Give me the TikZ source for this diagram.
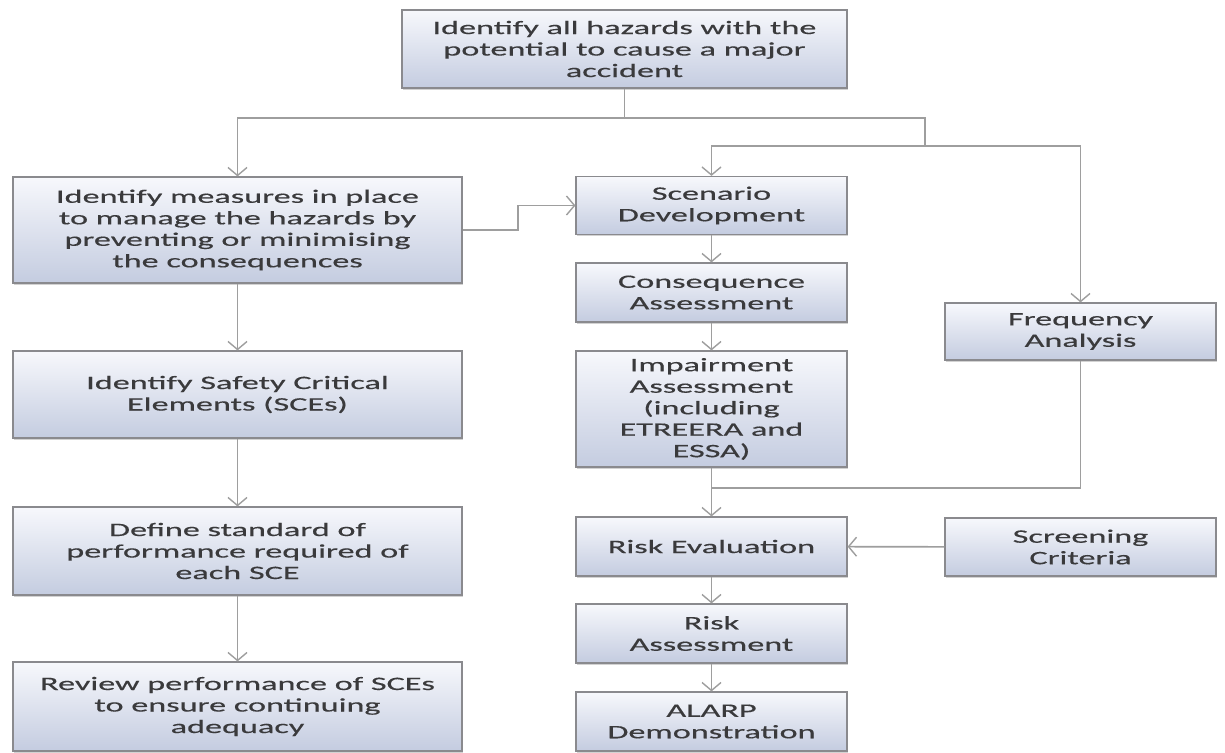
\documentclass[tikz,border=0pt]{standalone}
\usepackage{fontspec}
\setmainfont{Carlito}[FakeStretch=1.8,FakeBold=0.4]
\usetikzlibrary{arrows.meta,shadows}
\definecolor{boxtop}{RGB}{247,248,252}
\definecolor{boxbot}{RGB}{196,204,224}
\definecolor{boxline}{RGB}{138,138,142}
\definecolor{conn}{RGB}{158,158,158}
\definecolor{txt}{RGB}{58,58,60}
\begin{document}
\begin{tikzpicture}[x=1pt,y=-1pt,
  box/.style={draw=boxline, line width=1.2pt, top color=boxtop, bottom color=boxbot,
    inner sep=0pt, align=center, text=txt, font=\fontsize{19}{21.5}\selectfont,
    drop shadow={shadow xshift=0.8pt, shadow yshift=-1.6pt, opacity=0.35}},
  conline/.style={draw=conn, line width=1.6pt},
  conarrow/.style={conline, -{Straight Barb[length=8pt,width=19pt,line width=1.4pt]}}
]
\useasboundingbox[fill=white] (0,0) rectangle (1225,752);

% left column
\node[box, minimum width=445pt, minimum height=78pt] (top) at (624.5,49)
  {Identify all hazards with the\\potential to cause a major\\accident};
\node[box, minimum width=449pt, minimum height=106pt] (m1) at (237.5,230)
  {Identify measures in place\\to manage the hazards by\\preventing or minimising\\the consequences};
\node[box, minimum width=449pt, minimum height=87pt] (sce) at (237.5,394.5)
  {Identify Safety Critical\\Elements (SCEs)};
\node[box, minimum width=449pt, minimum height=88pt] (def) at (237.5,551)
  {Define standard of\\performance required of\\each SCE};
\node[box, minimum width=449pt, minimum height=89pt] (rev) at (237.5,706.5)
  {Review performance of SCEs\\to ensure continuing\\adequacy};

% middle column
\node[box, minimum width=271pt, minimum height=58pt] (scen) at (711.5,205.5)
  {Scenario\\Development};
\node[box, minimum width=271pt, minimum height=59pt] (cons) at (711.5,292.5)
  {Consequence\\Assessment};
\node[box, minimum width=271pt, minimum height=116pt] (imp) at (711.5,409)
  {Impairment\\Assessment\\(including\\ETREERA and\\ESSA)};
\node[box, minimum width=271pt, minimum height=59pt] (reval) at (711.5,546.5)
  {Risk Evaluation};
\node[box, minimum width=271pt, minimum height=59pt] (rass) at (711.5,633.5)
  {Risk\\Assessment};
\node[box, minimum width=271pt, minimum height=59pt] (alarp) at (711.5,721.5)
  {ALARP\\Demonstration};

% right column
\node[box, minimum width=271pt, minimum height=57pt] (freq) at (1080.5,331.5)
  {Frequency\\Analysis};
\node[box, minimum width=271pt, minimum height=58pt] (screen) at (1080.5,547)
  {Screening\\Criteria};

% junctions
\coordinate (j1) at (624.5,118);
\coordinate (j2) at (925,146);
\coordinate (k) at (518,230);
\coordinate (j3) at (711.5,488);

% connectors
\draw[conline] (top.south) -- (j1);
\draw[conarrow] (j1) -| (m1.north);
\draw[conline] (j1) -| (j2);
\draw[conarrow] (j2) -| (scen.north);
\draw[conarrow] (j2) -| (freq.north);
\draw[conarrow] (m1.east) -- (k) |- (scen.west);
\draw[conarrow] (scen) -- (cons);
\draw[conarrow] (cons) -- (imp);
\draw[conarrow] (imp) -- (reval);
\draw[conline] (freq.south) |- (j3);
\draw[conarrow] (screen) -- (reval);
\draw[conarrow] (reval) -- (rass);
\draw[conarrow] (rass) -- (alarp);
\draw[conarrow] (m1) -- (sce);
\draw[conarrow] (sce) -- (def);
\draw[conarrow] (def) -- (rev);
\end{tikzpicture}
\end{document}
